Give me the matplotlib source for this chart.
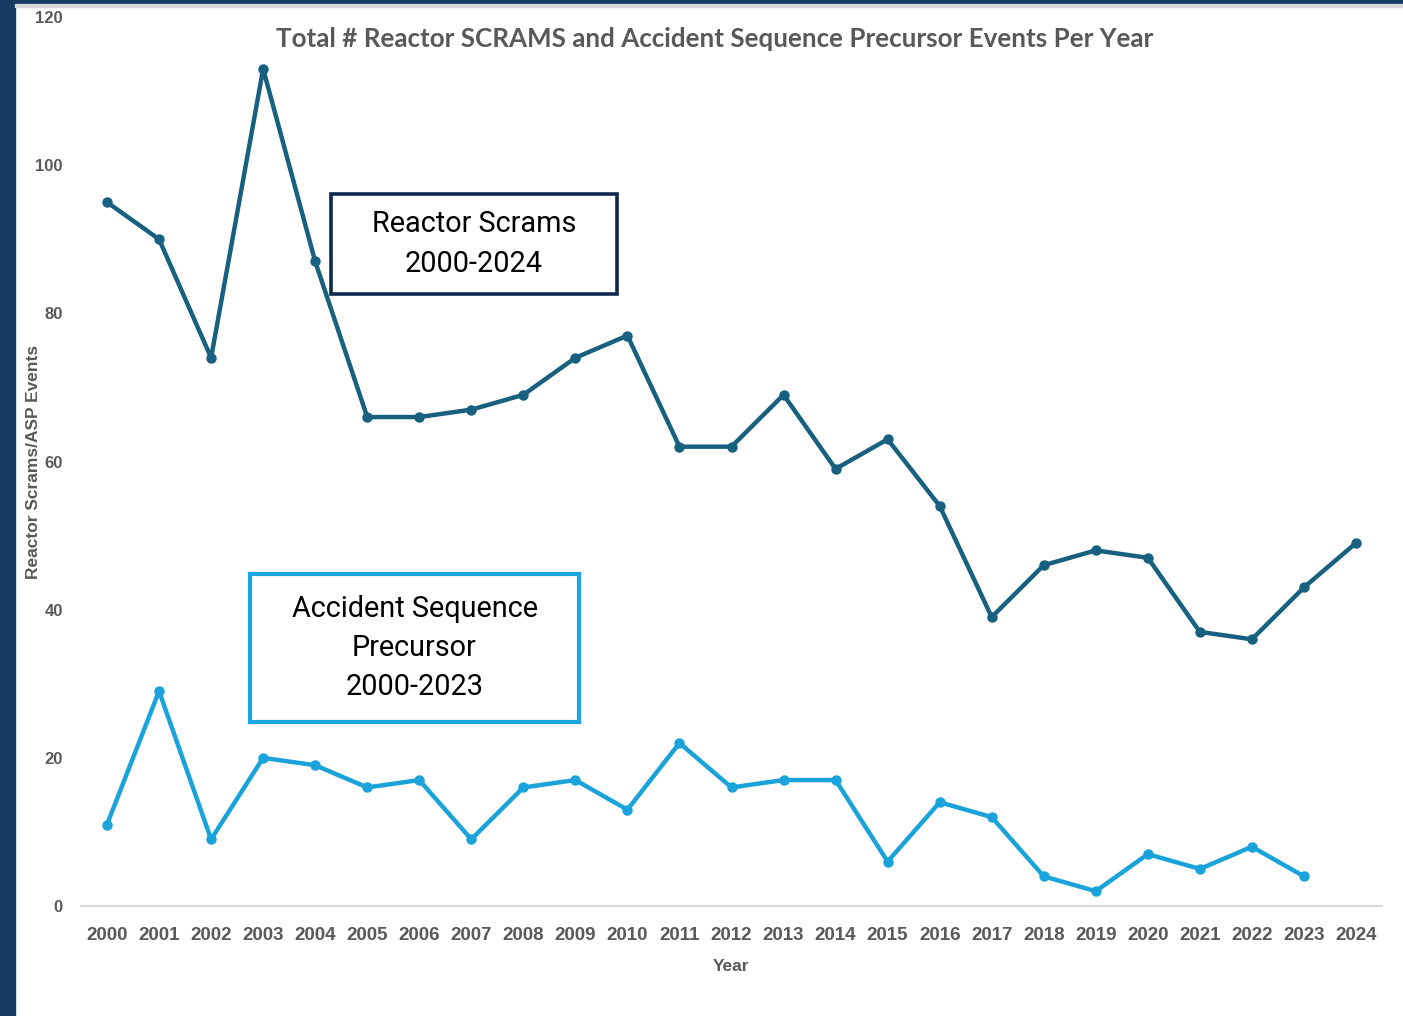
import matplotlib.pyplot as plt
from matplotlib.patches import Rectangle

years = [str(y) for y in range(2000, 2025)]
scrams = [95, 90, 74, 113, 87, 66, 66, 67, 69, 74, 77, 62, 62, 69, 59, 63,
          54, 39, 46, 48, 47, 37, 36, 43, 49]
asp_years = years[:-1]
asp = [11, 29, 9, 20, 19, 16, 17, 9, 16, 17, 13, 22, 16, 17, 17, 6,
       14, 12, 4, 2, 7, 5, 8, 4]

SCRAM_COLOR = "#17607F"
ASP_COLOR = "#1AA3DA"
GRAY = "#595959"

fig = plt.figure(figsize=(14.03, 10.16), dpi=100)
fig.patch.set_facecolor("white")

# dark frame bits from the slide
fig.patches.append(Rectangle((0, 0), 15 / 1403, 1, transform=fig.transFigure,
                             color="#163A61", zorder=0))
fig.patches.append(Rectangle((0, 1 - 4 / 1016), 1, 4 / 1016, transform=fig.transFigure,
                             color="#163A61", zorder=0))
fig.patches.append(Rectangle((15 / 1403, 1 - 7 / 1016), 1, 3 / 1016,
                             transform=fig.transFigure, color="#D6D6D6", zorder=0))

ax = fig.add_axes([81 / 1403, 1 - 906 / 1016, (1382 - 81) / 1403, (906 - 17) / 1016])
ax.set_facecolor("none")

x = list(range(len(years)))
ax.plot(x, scrams, color=SCRAM_COLOR, lw=3.2, marker="o", ms=6.5, zorder=3)
ax.plot(x[:len(asp)], asp, color=ASP_COLOR, lw=3.2, marker="o", ms=6.5, zorder=3)

ax.set_xlim(-0.5, len(years) - 0.5)
ax.set_ylim(0, 120)
ax.set_xticks(x)
ax.set_xticklabels(years)
ax.set_yticks(range(0, 121, 20))

for s in ["top", "right", "left"]:
    ax.spines[s].set_visible(False)
ax.spines["bottom"].set_color("#D9D9D9")
ax.spines["bottom"].set_linewidth(1.4)
ax.tick_params(length=0)
for lbl in ax.get_xticklabels():
    lbl.set_fontfamily("Liberation Sans")
    lbl.set_fontweight("bold")
    lbl.set_fontsize(13.5)
    lbl.set_color(GRAY)
for lbl in ax.get_yticklabels():
    lbl.set_fontfamily("Liberation Sans")
    lbl.set_fontweight("bold")
    lbl.set_fontsize(12)
    lbl.set_color(GRAY)
ax.tick_params(axis="x", pad=15)
ax.tick_params(axis="y", pad=13)

ax.set_xlabel("Year", family="Liberation Sans", fontweight="bold", fontsize=12.5,
              color=GRAY, labelpad=11)
ax.set_ylabel("Reactor Scrams/ASP Events", family="Liberation Sans", fontweight="bold",
              fontsize=12.5, color=GRAY)
ax.yaxis.set_label_coords((41 - 81) / 1301, 0.5)

fig.text(715 / 1403, 1 - 39 / 1016,
         "Total # Reactor SCRAMS and Accident Sequence Precursor Events Per Year",
         ha="center", va="center", family="Lato", fontweight="bold",
         fontsize=18.7, color=GRAY)

# label boxes
def label_box(x0, y0, x1, y1, edge, lw, text):
    fig.patches.append(Rectangle((x0 / 1403, 1 - y1 / 1016), (x1 - x0) / 1403,
                                 (y1 - y0) / 1016, transform=fig.transFigure,
                                 facecolor="white", edgecolor=edge, lw=lw, zorder=4))
    fig.text((x0 + x1) / 2 / 1403, 1 - (y0 + y1) / 2 / 1016, text, ha="center",
             va="center", family="Roboto", fontsize=20.8, color="black",
             linespacing=1.52, zorder=5)

label_box(331, 194, 617, 294, "#0E2A4E", 2.6, "Reactor Scrams\n2000-2024")
label_box(250, 574, 579, 722, "#1AA7E0", 3, "Accident Sequence\nPrecursor\n2000-2023")

fig.savefig("out.png", dpi=100)
